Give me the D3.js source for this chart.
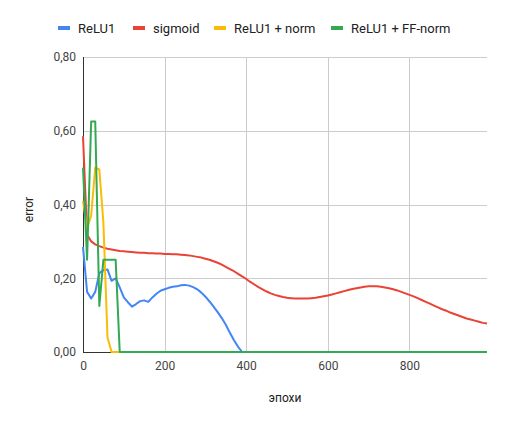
<!DOCTYPE html>
<html>
<head>
<meta charset="utf-8">
<script src="https://cdn.jsdelivr.net/npm/d3@7"></script>
<style>
  html, body { margin: 0; padding: 0; background: #fff; }
  svg { display: block; font-family: Roboto, Arial, sans-serif; }
</style>
</head>
<body>
<svg id="chart" width="508" height="426"></svg>
<script>
// ---- data ----
const epochs = d3.range(0, 1000, 10); // 0..990

const seriesNames = ["ReLU1", "sigmoid", "ReLU1 + norm", "ReLU1 + FF-norm"];
const seriesColors = ["#4285F4", "#EA4335", "#FBBC04", "#34A853"];

const relu1Head = [0.285, 0.163, 0.145, 0.163, 0.214, 0.222, 0.224, 0.193, 0.200, 0.175,
  0.148, 0.135, 0.123, 0.130, 0.138, 0.140, 0.136, 0.148, 0.158, 0.166,
  0.170, 0.174, 0.177, 0.178, 0.181, 0.182, 0.180, 0.176, 0.170, 0.161,
  0.150, 0.137, 0.123, 0.108, 0.092, 0.074, 0.052, 0.032, 0.014, 0];

const sigmoid = [0.585, 0.318, 0.300, 0.292, 0.287, 0.283, 0.280, 0.278, 0.276, 0.274,
  0.273, 0.272, 0.271, 0.270, 0.269, 0.269, 0.268, 0.268, 0.267, 0.267,
  0.266, 0.266, 0.265, 0.265, 0.264, 0.263, 0.262, 0.260, 0.258, 0.256,
  0.253, 0.250, 0.246, 0.242, 0.237, 0.231, 0.225, 0.219, 0.212, 0.205,
  0.198, 0.190, 0.183, 0.176, 0.170, 0.164, 0.159, 0.155, 0.152, 0.149,
  0.147, 0.146, 0.145, 0.145, 0.145, 0.145, 0.146, 0.147, 0.149, 0.151,
  0.153, 0.156, 0.159, 0.162, 0.165, 0.168, 0.171, 0.173, 0.175, 0.177,
  0.178, 0.178, 0.178, 0.177, 0.175, 0.173, 0.170, 0.167, 0.163, 0.159,
  0.155, 0.151, 0.146, 0.141, 0.136, 0.131, 0.126, 0.121, 0.116, 0.112,
  0.107, 0.103, 0.099, 0.095, 0.091, 0.088, 0.085, 0.082, 0.079, 0.077];

const reluNormHead = [0.41, 0.335, 0.37, 0.50, 0.495, 0.35, 0.04, 0];
const reluFFNormHead = [0.50, 0.25, 0.625, 0.625, 0.125, 0.25, 0.25, 0.25, 0.25, 0];

const xTicks = [0, 200, 400, 600, 800];
const yTicks = [0, 0.2, 0.4, 0.6, 0.8];
const xTitle = "эпохи";
const yTitle = "error";

// pad tails with zeros (values read as 0 after convergence)
function pad(head) { return epochs.map((e, i) => i < head.length ? head[i] : 0); }
const seriesValues = [pad(relu1Head), sigmoid, pad(reluNormHead), pad(reluFFNormHead)];

// ---- layout ----
const svg = d3.select("#chart");
const pL = 83, pR = 487, pT = 57, pB = 352;

const x = d3.scaleLinear().domain([0, 990]).range([pL, pR]);
const y = d3.scaleLinear().domain([0, 0.8]).range([pB, pT]);
const fmt = v => d3.format(".2f")(v).replace(".", ",");

// gridlines
svg.append("g").selectAll("line").data(yTicks.filter(d => d > 0)).join("line")
  .attr("x1", pL).attr("x2", pR)
  .attr("y1", d => Math.round(y(d)) + 0.5).attr("y2", d => Math.round(y(d)) + 0.5)
  .attr("stroke", "#cccccc").attr("stroke-width", 1);
svg.append("g").selectAll("line").data(xTicks.filter(d => d > 0)).join("line")
  .attr("x1", d => Math.round(x(d)) + 0.5).attr("x2", d => Math.round(x(d)) + 0.5)
  .attr("y1", pT).attr("y2", pB)
  .attr("stroke", "#cccccc").attr("stroke-width", 1);

// axes (D3 axes, restyled)
const yAxis = svg.append("g").attr("transform", `translate(${pL},0)`)
  .call(d3.axisLeft(y).tickValues(yTicks).tickFormat(fmt).tickSize(0).tickPadding(7));
yAxis.select(".domain").remove();
yAxis.selectAll("text").attr("fill", "#444").attr("font-size", 12)
  .attr("font-family", "Roboto, Arial, sans-serif");

const xAxis = svg.append("g").attr("transform", `translate(0,${pB})`)
  .call(d3.axisBottom(x).tickValues(xTicks).tickFormat(d3.format("d")).tickSize(0).tickPadding(9));
xAxis.select(".domain").remove();
xAxis.selectAll("text").attr("fill", "#444").attr("font-size", 12)
  .attr("font-family", "Roboto, Arial, sans-serif");

// axis lines
svg.append("line").attr("x1", pL + 0.5).attr("x2", pL + 0.5)
  .attr("y1", pT).attr("y2", pB + 0.5).attr("stroke", "#333").attr("stroke-width", 1);
svg.append("line").attr("x1", pL).attr("x2", pR)
  .attr("y1", pB + 0.5).attr("y2", pB + 0.5).attr("stroke", "#333").attr("stroke-width", 1);

// series lines
const line = d3.line().x((d, i) => x(epochs[i])).y(d => y(d));
seriesValues.forEach((vals, k) => {
  svg.append("path").datum(vals)
    .attr("d", line)
    .attr("fill", "none")
    .attr("stroke", seriesColors[k])
    .attr("stroke-width", 2)
    .attr("stroke-linejoin", "round");
});

// axis titles
svg.append("text").attr("x", (pL + pR) / 2).attr("y", 402)
  .attr("text-anchor", "middle").attr("font-size", 12).attr("fill", "#222").text(xTitle);
svg.append("text").attr("transform", `translate(33,${(pT + pB) / 2 + 5}) rotate(-90)`)
  .attr("text-anchor", "middle").attr("font-size", 12).attr("fill", "#222").text(yTitle);

// legend
const legendX = [58, 133, 214, 331];
const lg = svg.append("g");
seriesNames.forEach((name, k) => {
  lg.append("rect").attr("x", legendX[k]).attr("y", 26).attr("width", 12).attr("height", 4)
    .attr("fill", seriesColors[k]);
  lg.append("text").attr("x", legendX[k] + 20).attr("y", 32.5)
    .attr("font-size", 13).attr("fill", "#222").text(name);
});
</script>
</body>
</html>
